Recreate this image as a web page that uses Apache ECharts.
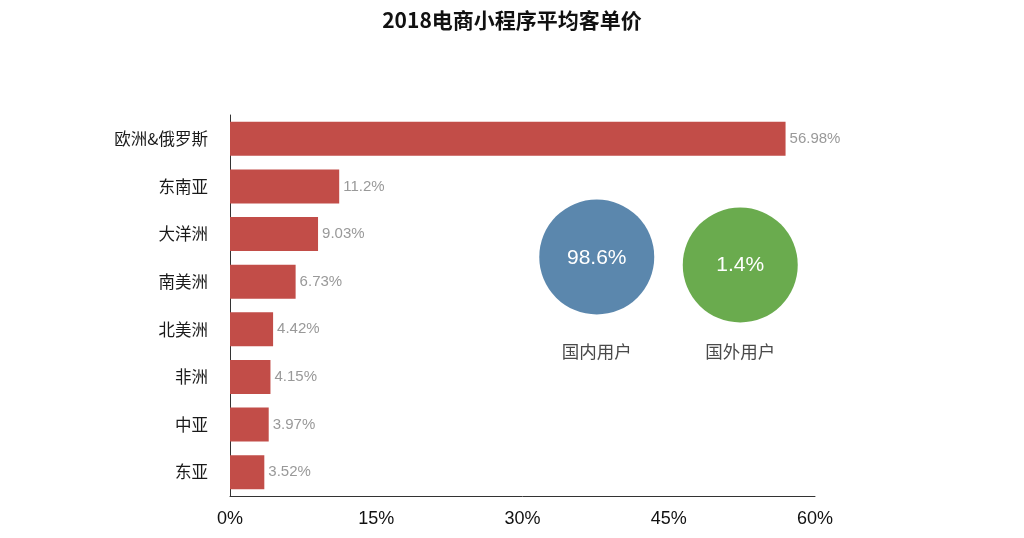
<!DOCTYPE html>
<html><head><meta charset="utf-8">
<script src="https://cdn.jsdelivr.net/npm/echarts@6/dist/echarts.min.js"></script>
<style>html,body{margin:0;padding:0;background:#fff}#c{width:1024px;height:538px}</style>
</head><body><div id="c"></div>
<script>
var titleText = '2018电商小程序平均客单价';
var regions = ['欧洲&俄罗斯','东南亚','大洋洲','南美洲','北美洲','非洲','中亚','东亚'];
var regionValues = [56.98, 11.2, 9.03, 6.73, 4.42, 4.15, 3.97, 3.52];
var xTicks = [0, 15, 30, 45, 60];
var userTypes = ['国内用户','国外用户'];
var userShares = [98.6, 1.4];

var chart = echarts.init(document.getElementById('c'));
var font = '"Noto Sans CJK SC", "Liberation Sans", sans-serif';
chart.setOption({
  animation: false,
  textStyle: {fontFamily: font},
  title: {text: titleText, left: 'center', top: 5,
    textStyle: {fontSize: 21, fontWeight: 'bold', color: '#111', fontFamily: font}},
  grid: [
    {left: 230, right: 209, top: 115, bottom: 42, containLabel: false},
    {left: 525, width: 287, top: 211, height: 100}
  ],
  xAxis: [
    {type: 'value', gridIndex: 0, min: xTicks[0], max: xTicks[xTicks.length-1], interval: 15,
      splitLine: {show: false},
      axisLine: {show: true, lineStyle: {color: '#333', width: 1}},
      axisTick: {show: false},
      axisLabel: {formatter: '{value}%', color: '#111', fontSize: 18, margin: 14, fontFamily: '"Liberation Sans", sans-serif'}},
    {type: 'category', gridIndex: 1, data: userTypes,
      axisLine: {show: false}, axisTick: {show: false},
      axisLabel: {color: '#4a4a4a', fontSize: 17.5, margin: 32}}
  ],
  yAxis: [
    {type: 'category', gridIndex: 0, data: regions, inverse: true,
      axisLine: {show: true, lineStyle: {color: '#333', width: 1}},
      axisTick: {show: false},
      axisLabel: {color: '#1a1a1a', fontSize: 16.5, margin: 22}},
    {type: 'value', gridIndex: 1, min: -1, max: 1, show: false}
  ],
  series: [
    {type: 'bar', xAxisIndex: 0, yAxisIndex: 0, data: regionValues, barWidth: 34,
      itemStyle: {color: '#c24d48'},
      label: {show: true, position: 'right', distance: 4, color: '#999', fontSize: 15,
        fontFamily: '"Liberation Sans", sans-serif', formatter: '{c}%'}},
    {type: 'scatter', xAxisIndex: 1, yAxisIndex: 1, symbolSize: 115,
      data: [
        {value: [userTypes[0], 0, userShares[0]], symbolOffset: [0, -4], itemStyle: {color: '#5b87ad', opacity: 1},
          label: {offset: [0, 1]}},
        {value: [userTypes[1], 0, userShares[1]], symbolOffset: [0, 4], itemStyle: {color: '#6aab4e', opacity: 1}}
      ],
      label: {show: true, position: 'inside', color: '#fff', fontSize: 21,
        fontFamily: '"Liberation Sans", sans-serif',
        formatter: function(p){ return p.value[2] + '%'; }}}
  ]
});
</script></body></html>
